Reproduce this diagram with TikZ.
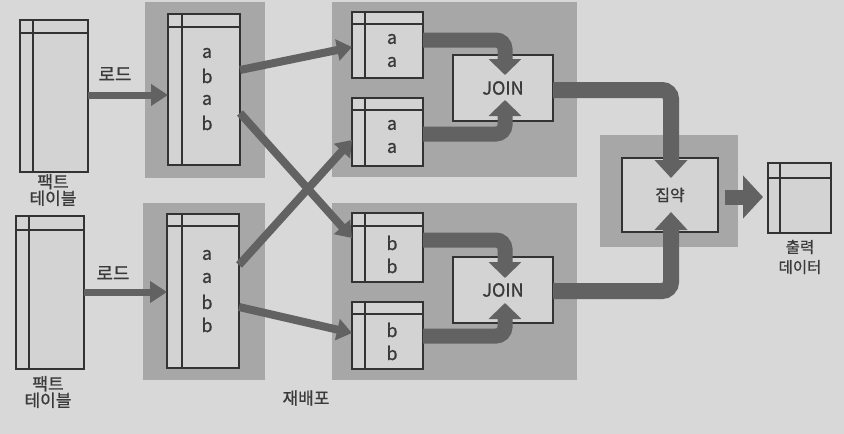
\documentclass[tikz,border=0pt]{standalone}
\usepackage{fontspec}
\setmainfont{Noto Sans CJK KR}[FakeBold=0.8]
\usetikzlibrary{arrows.meta,calc}
\definecolor{bgc}{HTML}{D8D8D8}
\definecolor{panelc}{HTML}{A7A7A7}
\definecolor{boxc}{HTML}{D3D3D3}
\definecolor{linec}{HTML}{333333}
\definecolor{arrc}{HTML}{626262}
\definecolor{txtc}{HTML}{3A3A3A}
\tikzset{
  panel/.style={fill=panelc},
  tbox/.style={draw=linec, fill=boxc, line width=2.5pt, inner sep=0pt, outer sep=0pt, rectangle},
  inner/.style={draw=linec, line width=2pt},
  loadarrow/.style={draw=arrc, line width=7pt, -{Triangle[length=17pt,width=21pt]}},
  redist/.style={draw=arrc, line width=8pt, -{Triangle[length=15pt,width=21pt]}},
  joinarrow/.style={draw=arrc, line width=15pt, rounded corners=9pt, -{Triangle[length=16pt,width=32pt]}},
  aggarrow/.style={draw=arrc, line width=16pt, rounded corners=9pt, -{Triangle[length=18pt,width=32pt]}},
  outarrow/.style={draw=arrc, line width=15pt, -{Triangle[length=20pt,width=42pt]}},
  letter/.style={text=txtc, font=\fontsize{18}{18}\selectfont, inner sep=0pt},
  krlabel/.style={text=txtc, font=\fontsize{17}{16.5}\selectfont, align=center, inner sep=0pt},
}
\newcommand{\tblines}[3]{%
  \draw[inner] ([yshift=-#2pt]#1.north west) -- ([yshift=-#2pt]#1.north east);
  \draw[inner] ([xshift=#3pt]#1.north west) -- ([xshift=#3pt]#1.south west);
}
\begin{document}
\begin{tikzpicture}[x=1pt,y=-1pt]
\useasboundingbox (0,0) rectangle (844,434);
\fill[bgc] (0,0) rectangle (844,434);

% panels
\fill[panel] (145,2) rectangle (265,178);
\fill[panel] (143,203) rectangle (265,380);
\fill[panel] (332,2) rectangle (577,177);
\fill[panel] (332,203) rectangle (577,380);
\fill[panel] (600,135) rectangle (738,247);

% fact tables
\node[tbox, minimum width=68pt, minimum height=152pt] (FT1) at (54,96) {};
\tblines{FT1}{13}{13}
\node[tbox, minimum width=68pt, minimum height=153pt] (FT2) at (50,292.5) {};
\tblines{FT2}{14}{13}

% loaded boxes
\node[tbox, minimum width=72pt, minimum height=151pt] (B1) at (204,89.5) {};
\tblines{B1}{13}{14}
\node[tbox, minimum width=72pt, minimum height=154pt] (B2) at (203,291) {};
\tblines{B2}{12}{15}

% partition boxes
\node[tbox, minimum width=71pt, minimum height=66pt] (A1) at (387.5,45) {};
\tblines{A1}{12}{13}
\node[tbox, minimum width=71pt, minimum height=68pt] (A2) at (387.5,132) {};
\tblines{A2}{12}{13}
\node[tbox, minimum width=71pt, minimum height=69pt] (C1) at (387.5,247.5) {};
\tblines{C1}{13}{13}
\node[tbox, minimum width=71pt, minimum height=67pt] (C2) at (387.5,335.5) {};
\tblines{C2}{12}{13}

% join boxes
\node[tbox, minimum width=100pt, minimum height=66pt] (J1) at (503,88) {};
\node[tbox, minimum width=100pt, minimum height=66pt] (J2) at (503,290) {};

% aggregation
\node[tbox, minimum width=96pt, minimum height=74pt] (AG) at (670,195) {};

% output
\node[tbox, minimum width=63pt, minimum height=70pt] (OUT) at (799.5,198) {};
\tblines{OUT}{15}{12}

% load arrows
\draw[loadarrow] (FT1.east |- 0,95) -- (B1.west |- 0,95);
\draw[loadarrow] (FT2.east |- 0,292) -- (B2.west |- 0,292);

% redistribution
\draw[redist] (B1.east |- 0,70) -- (A1.west |- 0,47);
\draw[redist] (B1.east |- 0,113) -- (C1.west |- 0,238);
\draw[redist] (B2.east |- 0,265) -- (A2.west |- 0,140);
\draw[redist] (B2.east |- 0,307) -- (C2.west |- 0,333);

% join inputs
\draw[joinarrow] (A1.east |- 0,40) -| ($(J1.north)+(2,20)$);
\draw[joinarrow] (A2.east |- 0,134) -| ($(J1.south)+(2,-21)$);
\draw[joinarrow] (C1.east |- 0,240) -| ($(J2.north)+(2,21)$);
\draw[joinarrow] (C2.east |- 0,336) -| ($(J2.south)+(2,-20)$);

% to aggregation
\draw[aggarrow] (J1.east |- 0,90) -| ($(AG.north)+(1,20)$);
\draw[aggarrow] (J2.east |- 0,291) -| ($(AG.south)+(1,-20)$);

% output arrow
\coordinate (o1) at ($(AG.east |- 0,197)+(7,0)$);
\coordinate (o2) at ($(OUT.west |- 0,197)+(-5,0)$);
\draw[outarrow] (o1) -- (o2);

% letters
\node[letter] (l1) at (207,53) {a};
\node[letter] (l2) at (207,76) {b};
\node[letter] (l3) at (207,100) {a};
\node[letter] (l4) at (207,123) {b};
\node[letter] (m1) at (207,255) {a};
\node[letter] (m2) at (207,278) {a};
\node[letter] (m3) at (207,302) {b};
\node[letter] (m4) at (207,325) {b};
\node[letter] (p1) at (392,39) {a};
\node[letter] (p2) at (392,62) {a};
\node[letter] (p3) at (392,125) {a};
\node[letter] (p4) at (392,148) {a};
\node[letter] (q1) at (392,243) {b};
\node[letter] (q2) at (392,266) {b};
\node[letter] (q3) at (392,330) {b};
\node[letter] (q4) at (392,353) {b};
\node[letter] (jt1) at (J1) {JOIN};
\node[letter] (jt2) at (J2) {JOIN};
\node[krlabel, font=\fontsize{16}{16}\selectfont] (agt) at (AG) {집약};

% labels
\node[krlabel] (ft1l) at (53,190) {팩트\\테이블};
\node[krlabel] (ft2l) at (48,392) {팩트\\테이블};
\node[krlabel, font=\fontsize{18}{18}\selectfont] (ld1) at (115,74) {로드};
\node[krlabel, font=\fontsize{18}{18}\selectfont] (ld2) at (113,273) {로드};
\node[krlabel] (rd) at (306,398) {재배포};
\node[krlabel, font=\fontsize{15.5}{20}\selectfont] (outl) at (800,257) {출력\\데이터};
\end{tikzpicture}
\end{document}
